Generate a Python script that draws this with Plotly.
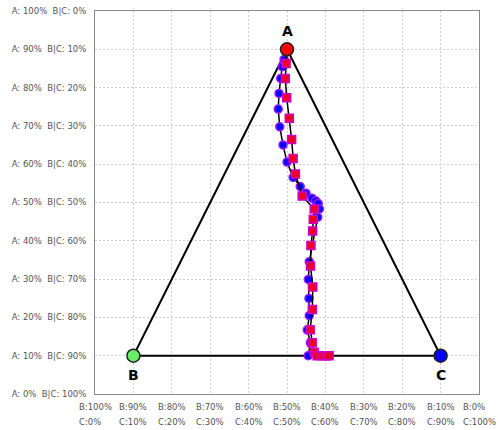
import plotly.graph_objects as go

# Composition series (percent of A, B, C)
s1_a = [100.0, 96.7, 94.3, 90.5, 85.6, 80.5, 74.7, 68.8, 63.2, 58.2, 55.2, 53.0, 51.4, 50.6, 49.7,
        47.9, 45.2, 30.7, 24.9, 18.7, 13.1, 8.4, 4.2, 0.0]
s1_b = [0.0, 2.6, 4.4, 6.8, 9.8, 12.6, 15.0, 16.9, 18.4, 18.9, 18.1, 17.3, 16.2, 15.4, 15.0,
        15.5, 17.4, 27.4, 30.6, 33.5, 36.2, 39.2, 40.3, 43.1]
s1_c = [0.0, 0.7, 1.3, 2.7, 4.6, 6.9, 10.3, 14.3, 18.4, 22.9, 26.7, 29.7, 32.4, 34.0, 35.3,
        36.6, 37.4, 41.9, 44.5, 47.8, 50.7, 52.4, 55.5, 56.9]

s2_a = [100.0, 95.4, 90.5, 84.2, 77.5, 70.6, 64.4, 59.3, 52.1, 47.9, 44.5, 40.7, 36.0, 29.3, 22.4,
        15.1, 8.5, 4.2, 1.1, 0.0, 0.0, 0.0, 0.0]
s2_b = [0.0, 2.6, 5.3, 8.0, 10.5, 13.2, 15.8, 17.6, 19.0, 17.2, 19.2, 21.3, 24.2, 27.7, 30.4,
        34.2, 38.2, 39.7, 40.6, 40.2, 38.6, 37.3, 36.3]
s2_c = [0.0, 2.0, 4.2, 7.8, 12.0, 16.2, 19.8, 23.1, 28.9, 34.9, 36.3, 38.0, 39.8, 43.0, 47.2,
        50.7, 53.3, 56.1, 58.3, 59.8, 61.4, 62.7, 63.7]

vertex_names = ["A", "B", "C"]
vertex_colors = ["#ff0000", "#66ee66", "#0000ff"]

x_ticks = list(range(0, 101, 10))
x_labels = [f"B:{100 - v}%<br>C:{v}%" for v in x_ticks]
y_ticks = list(range(0, 101, 10))
y_labels = [f"A: {v}%  B|C: {100 - v}%" for v in y_ticks]

# Corner positions of the triangle in the plotting plane
VA, VB, VC = (50.0, 90.0), (10.0, 10.0), (90.0, 10.0)


def project(a, b, c):
    xs, ys = [], []
    for pa, pb, pc in zip(a, b, c):
        t = pa + pb + pc
        fa, fb, fc = pa / t, pb / t, pc / t
        xs.append(fa * VA[0] + fb * VB[0] + fc * VC[0])
        ys.append(fa * VA[1] + fb * VB[1] + fc * VC[1])
    return xs, ys


fig = go.Figure()

# Triangle outline
fig.add_trace(go.Scatter(
    x=[VA[0], VB[0], VC[0], VA[0]], y=[VA[1], VB[1], VC[1], VA[1]],
    mode="lines", line=dict(color="black", width=2), hoverinfo="skip", showlegend=False))

x1, y1 = project(s1_a, s1_b, s1_c)
fig.add_trace(go.Scatter(x=x1[:2], y=y1[:2], mode="lines", line=dict(color="black", width=1.5),
                         showlegend=False, hoverinfo="skip"))
fig.add_trace(go.Scatter(
    x=x1[1:], y=y1[1:], mode="lines+markers",
    line=dict(color="black", width=1.5),
    marker=dict(symbol="circle", size=8, color="#0000ff", line=dict(color="#9a1aff", width=1.5)),
    showlegend=False))

x2, y2 = project(s2_a, s2_b, s2_c)
fig.add_trace(go.Scatter(x=x2[:2], y=y2[:2], mode="lines", line=dict(color="black", width=1.5),
                         showlegend=False, hoverinfo="skip"))
fig.add_trace(go.Scatter(
    x=x2[1:], y=y2[1:], mode="lines+markers",
    line=dict(color="black", width=1.5),
    marker=dict(symbol="square", size=8, color="#ee0022", line=dict(color="#cc00cc", width=1.5)),
    showlegend=False))

# Corner markers
fig.add_trace(go.Scatter(
    x=[VA[0], VB[0], VC[0]], y=[VA[1], VB[1], VC[1]], mode="markers",
    marker=dict(size=13, color=vertex_colors, line=dict(color="#222222", width=1.5)),
    showlegend=False))

# Corner labels
for (vx, vy), name, shift in zip([VA, VB, VC], vertex_names, [18, -19, -19]):
    fig.add_annotation(x=vx, y=vy, xref="x", yref="y", text=f"<b>{name}</b>", showarrow=False,
                       xanchor="center", yanchor="middle", yshift=shift,
                       font=dict(family="DejaVu Sans", size=14, color="black"))

# Two-line bottom labels, left aligned within their block
for v, lab in zip(x_ticks, x_labels):
    top, bottom = lab.split("<br>")
    txt = (f"<span style='font-size:8.5px'>{top}</span><br>"
           f"<span style='font-size:8.5px'>{bottom}</span>")
    fig.add_annotation(x=v, y=0, xref="x", yref="paper", text=txt, showarrow=False,
                       xanchor="center", yanchor="top", align="left", yshift=-6,
                       font=dict(family="DejaVu Sans", size=11.5, color="#555555"))

fig.update_xaxes(range=[0, 100], tickvals=x_ticks, showticklabels=False, automargin=False,
                 showgrid=True, gridcolor="#cfcfcf", griddash="2px,2px", gridwidth=1,
                 showline=True, linecolor="#888888", linewidth=1, mirror=True, zeroline=False,
                 fixedrange=True)
fig.update_yaxes(range=[0, 100], tickvals=y_ticks, ticktext=y_labels, automargin=False,
                 tickfont=dict(family="DejaVu Sans", size=8.5, color="#555555"),
                 showgrid=True, gridcolor="#cfcfcf", griddash="2px,2px", gridwidth=1,
                 showline=True, linecolor="#888888", linewidth=1, mirror=True, zeroline=False,
                 ticklabelstandoff=6, fixedrange=True)

fig.update_layout(width=498, height=430, margin=dict(l=95, r=19, t=11, b=36),
                  plot_bgcolor="white", paper_bgcolor="white")

fig.write_html("out.html")
